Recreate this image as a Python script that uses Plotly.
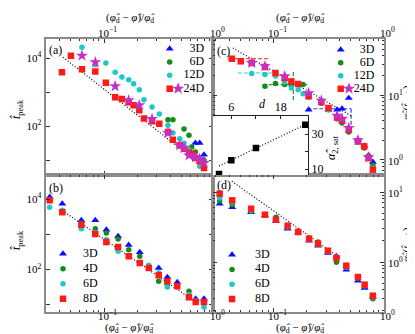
import numpy as np
import plotly.graph_objects as go

W, H = 415, 334
FONT = "Liberation Serif"
N = None

# ---------------- data ----------------
# (phi_d - phi)/phi_d sampled in the top row (panels a, c)
x_top = [0.0418, 0.0504, 0.0633, 0.0835, 0.104, 0.126, 0.145, 0.167, 0.185, 0.208, 0.229,
         0.271, 0.315, 0.377, 0.418, 0.481, 0.526, 0.583, 0.617, 0.665, 0.728, 0.796]
# (a) t_peak
tpeak_a_3d = [N, N, N, N, N, N, N, N, N, N, N, N, N, N, N, N, N, N, N, 31.6, 31.6, 14.3]
tpeak_a_6d = [N, N, N, N, N, N, N, N, N, N, N, N, N, 153, 153, N, 81.6, 53.2, 24.1, 17.2, N, 9.8]
tpeak_a_12d = [N, N, 20600, 6350, 7130, 3790, 2760, 2300, 1750, 1170, 594, 362, 225, 105, 62,
               42, 31, 19.7, N, N, 6.5, N]
tpeak_a_24d_sq = [3800, 11700, 4650, 4000, 1870, 700, 620, 500, 405, 290, 165, 137, 117, 67,
                  39.5, 27, 21.5, 16.4, 15, 11.5, 9.2, 5.8]
tpeak_a_24d_st = [N, N, 11700, 7480, N, 1470, N, 570, N, 406, N, 161, N, 62, N, 27, 22.5, 13.7,
                  N, 12, 10.9, 8.2]
# (c) alpha_2(t_peak)
a2_c_3d = [N, N, N, N, N, N, N, N, N, 5.94, N, N, 5.94, 5.94, 6.15, 8.99, N, 2.05, N, 1.66, 1.18, 0.93]
a2_c_6d = [N, N, N, 13.7, 15.0, 14.5, 14.0, N, 14.5, 9.65, N, 7.5, 6.1, 4.27, 3.71, 2.7, N, 1.89,
           N, 1.53, 1.15, 0.83]
a2_c_12d = [N, N, 21.4, 20.7, 19.6, 15.8, 12.8, 12.1, 10.5, 9.3, N, N, 5.9, 4.4, N, 2.9, N, 1.9,
            N, N, 1.07, 0.75]
a2_c_24d_sq = [36.2, 33.0, 31.1, 27.0, 21.8, 18.3, 16.2, 14.8, N, 9.55, N, 7.8, 6.31, 4.54, 4.02,
               2.93, N, 1.94, N, 1.62, 1.07, 0.71]
a2_c_24d_st = [N, N, 31.1, 27.7, N, 19.4, N, N, N, 10.7, N, 8.2, N, 4.8, 4.32, 3.11, N, 2.01,
               N, N, 1.1, N]
# (c) plateau levels (dashed) and crossover markers
sat_dims = ["3D", "6D", "12D", "24D"]
sat_level = [6.15, 14.4, 21.8, 36.2]
sat_x_from = [0.202, 0.0796, 0.0474, 0.0386]
sat_x_to = [0.505, 0.202, 0.104, 0.0915]
cross_dims = ["3D", "6D"]
cross_x = [0.505, 0.151]
cross_y_from = [6.15, 22.6]
cross_y_to = [2.6, 8.4]

# bottom row (panels b, d)
x_bot = [0.0324, 0.0421, 0.0625, 0.0835, 0.105, 0.134, 0.167, 0.210, 0.253, 0.311, 0.372,
         0.457, 0.583, 0.670, 0.796]
tpeak_b_3d = [11400, 7360, 2490, 2490, 1350, 875, 495, 308, N, 110, 60, 43.4, N, 14.9, 14.9]
tpeak_b_4d = [9000, 4300, 2080, 1440, 1080, 733, 365, 237, 110, 46.2, 37.1, 33, 24.1, 13, 12]
tpeak_b_6d = [5820, 4780, 1440, 1100, 700, 328, 241, 153, 131, 79.5, 31.9, 34, 19.3, 12.8, 8.5]
tpeak_b_8d = [9190, 4200, 1870, 1016, 603, 435, 237, 153, 110, 68.4, 46.2, 33.4, 16.3, 12.0, 12.0]
a2_d_3d = [6.81, 6.04, 5.13, 4.65, 3.81, 2.99, 2.64, 2.02, 1.71, 1.34, 1.21, 0.776, 0.541, 0.425, 0.32]
a2_d_4d = [7.51, 6.59, 5.30, 4.74, 4.35, 3.30, 2.77, 2.20, 1.93, 1.42, 0.99, 0.85, 0.59, 0.46, 0.299]
a2_d_6d = [8.21, 7.2, 5.5, 4.69, 3.98, 3.16, 2.7, 2.12, 1.8, 1.42, 1.18, 0.85, 0.6, 0.46, 0.32]
a2_d_8d = [9.46, 7.61, 5.77, 4.74, 4.02, 3.30, 2.68, 2.15, 1.83, 1.45, 1.14, 0.886, 0.61, 0.474, 0.33]

# power-law guides: prefactor, exponent, x start, x end
fit_a = [3.50, -2.54, 0.0427, 0.656]
fit_b = [5.03, -2.16, 0.0421, 0.670]
fit_c = [2.47, -0.972, 0.0427, 0.515]
fit_d = [0.413, -1.115, 0.0418, 0.383]

# inset: saturation value vs dimension
inset_d = [3, 6, 12, 24]
inset_alpha_sat = [7.1, 15.0, 22.0, 35.3]

legend_top = ["3D", "6D", "12D", "24D"]
legend_bot = ["3D", "4D", "6D", "8D"]

# ---------------- style ----------------
STY = {
    "blue": dict(symbol="triangle-up", size=7, color="#0b0bff"),
    "green": dict(symbol="circle", size=5.5, color="#178a17"),
    "cyan": dict(symbol="circle", size=5.5, color="#1cc8c8"),
    "red": dict(symbol="square", size=6.5, color="#ff1a1a"),
    "magenta": dict(symbol="star", size=9, color="#c52fc5"),
}
DASH_COL = {"3D": "#3a3aff", "6D": "#1f9a1f", "12D": "#2ccfcf", "24D": "#ff4a4a"}
DOT = "1px,2px"


def xd(p0, p1):
    return [p0 / W, p1 / W]


def yd(top, bottom):
    return [1 - bottom / H, 1 - top / H]


def sup10(e):
    return "10<sup>%s</sup>" % (str(e).replace("-", "\u2212"))


X_MINOR = [k * 10.0 ** e for e in (-2, -1) for k in range(2, 10)]
Y_MINOR_SMALL = [k * 10.0 ** e for e in (-1, 0, 1) for k in range(2, 10)]


def log_axis(domain, rng, side, anchor, tickvals, ticktext, minor=None, labels=True):
    ax = dict(type="log", domain=domain, range=rng, side=side, anchor=anchor,
              showline=True, linecolor="#8a8a8a", linewidth=2, mirror="ticks",
              ticks="inside", ticklen=4, tickwidth=1, tickcolor="#333",
              tickvals=tickvals, ticktext=ticktext, showgrid=False, zeroline=False,
              showticklabels=labels,
              tickfont=dict(family=FONT, size=11, color="black"))
    if minor:
        ax["minor"] = dict(tickvals=minor, ticks="inside", ticklen=2, tickcolor="#333")
    return ax


fig = go.Figure()


def add_pts(x, y, sty, xa, ya):
    fig.add_trace(go.Scatter(x=x, y=y, mode="markers", marker=dict(**STY[sty], line=dict(width=0)),
                             xaxis=xa, yaxis=ya, showlegend=False, hoverinfo="skip"))


def add_fit(p, xa, ya):
    xs = np.geomspace(p[2], p[3], 40)
    fig.add_trace(go.Scatter(x=xs, y=p[0] * xs ** p[1], mode="lines",
                             line=dict(color="black", width=1.2, dash=DOT),
                             xaxis=xa, yaxis=ya, showlegend=False, hoverinfo="skip"))


# panel (a)
add_fit(fit_a, "x", "y")
add_pts(x_top, tpeak_a_3d, "blue", "x", "y")
add_pts(x_top, tpeak_a_6d, "green", "x", "y")
add_pts(x_top, tpeak_a_12d, "cyan", "x", "y")
add_pts(x_top, tpeak_a_24d_sq, "red", "x", "y")
add_pts(x_top, tpeak_a_24d_st, "magenta", "x", "y")

# panel (c)
for dim, lev, x0, x1 in zip(sat_dims, sat_level, sat_x_from, sat_x_to):
    fig.add_trace(go.Scatter(x=[x0, x1], y=[lev, lev], mode="lines",
                             line=dict(color=DASH_COL[dim], width=1.2, dash="4px,2px"),
                             xaxis="x2", yaxis="y2", showlegend=False, hoverinfo="skip"))
for dim, xc, y0, y1 in zip(cross_dims, cross_x, cross_y_from, cross_y_to):
    fig.add_trace(go.Scatter(x=[xc, xc], y=[y0, y1], mode="lines",
                             line=dict(color=DASH_COL[dim], width=1.2, dash="4px,2px"),
                             xaxis="x2", yaxis="y2", showlegend=False, hoverinfo="skip"))
add_fit(fit_c, "x2", "y2")
add_pts(x_top, a2_c_3d, "blue", "x2", "y2")
add_pts(x_top, a2_c_6d, "green", "x2", "y2")
add_pts(x_top, a2_c_12d, "cyan", "x2", "y2")
add_pts(x_top, a2_c_24d_sq, "red", "x2", "y2")
add_pts(x_top, a2_c_24d_st, "magenta", "x2", "y2")

# panel (b)
add_fit(fit_b, "x3", "y3")
add_pts(x_bot, tpeak_b_3d, "blue", "x3", "y3")
add_pts(x_bot, tpeak_b_4d, "green", "x3", "y3")
add_pts(x_bot, tpeak_b_6d, "cyan", "x3", "y3")
add_pts(x_bot, tpeak_b_8d, "red", "x3", "y3")

# panel (d)
add_fit(fit_d, "x4", "y4")
add_pts(x_bot, a2_d_3d, "blue", "x4", "y4")
add_pts(x_bot, a2_d_4d, "green", "x4", "y4")
add_pts(x_bot, a2_d_6d, "cyan", "x4", "y4")
add_pts(x_bot, a2_d_8d, "red", "x4", "y4")

# inset: linear fit over d >= 6
slope, icpt = np.polyfit(inset_d[1:], inset_alpha_sat[1:], 1)
d_line = np.array([min(inset_d), max(inset_d)])
fig.add_trace(go.Scatter(x=d_line, y=slope * d_line + icpt, mode="lines",
                         line=dict(color="black", width=1.2, dash=DOT),
                         xaxis="x5", yaxis="y5", showlegend=False, hoverinfo="skip"))
fig.add_trace(go.Scatter(x=inset_d, y=inset_alpha_sat, mode="markers",
                         marker=dict(symbol="square", size=6.5, color="black"),
                         xaxis="x5", yaxis="y5", showlegend=False, hoverinfo="skip"))

# legends, drawn on small categorical axes
TXT = dict(family=FONT, size=12, color="black")


def top_legend(xa, ya):
    for lab, sty in zip(legend_top[:3], ["blue", "green", "cyan"]):
        add_pts(["sym"], [lab], sty, xa, ya)
    fig.add_trace(go.Scatter(x=["sym"], y=[legend_top[3]], mode="markers+text", text=["/"],
                             textposition="middle right", textfont=TXT,
                             marker=dict(**STY["red"]), xaxis=xa, yaxis=ya,
                             showlegend=False, hoverinfo="skip"))
    add_pts(["alt"], [legend_top[3]], "magenta", xa, ya)
    fig.add_trace(go.Scatter(x=["lab"] * 4, y=legend_top, mode="text", text=legend_top,
                             textposition="middle left", textfont=TXT, xaxis=xa, yaxis=ya,
                             showlegend=False, hoverinfo="skip"))


def bot_legend(xa, ya):
    for lab, sty in zip(legend_bot, ["blue", "green", "cyan", "red"]):
        add_pts(["sym"], [lab], sty, xa, ya)
    fig.add_trace(go.Scatter(x=["lab"] * 4, y=legend_bot, mode="text", text=legend_bot,
                             textposition="middle right", textfont=TXT, xaxis=xa, yaxis=ya,
                             showlegend=False, hoverinfo="skip"))


top_legend("x6", "y6")
top_legend("x7", "y7")
bot_legend("x8", "y8")
bot_legend("x9", "y9")

# ---------------- layout ----------------
LEFT, RIGHT = xd(37.5, 205), xd(205, 376)
TOP, BOT = yd(31, 167), yd(167, 304)
xr_left, xr_right = [-1.527, -0.018], [-1.55, 0.002]
xt = [0.1, 1]
yt_t = [10, 100, 1000, 10000]
ytt_t = ["", sup10(2), "", sup10(4)]
yt_a = [0.1, 1, 10]


def leg_x(left, unit, cats):
    return dict(domain=xd(left, left + 5 * unit), type="category", categoryorder="array",
                categoryarray=cats, range=[-0.5, 4.5], visible=False, fixedrange=True)


def leg_y(top, step, cats, anchor):
    return dict(domain=yd(top, top + 4 * step), type="category", categoryorder="array",
                categoryarray=cats, range=[3.5, -0.5], visible=False, fixedrange=True,
                anchor=anchor)


CAT_TOP = ["sym", "alt", "c2", "c3", "lab"]
CAT_BOT = ["sym", "alt", "lab"]

fig.update_layout(
    width=W, height=H, margin=dict(l=0, r=0, t=0, b=0),
    paper_bgcolor="white", plot_bgcolor="white",
    font=dict(family=FONT, size=12, color="black"),
    xaxis=log_axis(LEFT, xr_left, "top", "y", xt, None, X_MINOR, labels=False),
    yaxis=log_axis(TOP, [0.559, 4.559], "left", "x", yt_t, ytt_t),
    xaxis2=log_axis(RIGHT, xr_right, "top", "y2", xt, None, X_MINOR, labels=False),
    yaxis2=log_axis(TOP, [-0.231, 1.862], "right", "x2", yt_a, None, Y_MINOR_SMALL, labels=False),
    xaxis3=log_axis(LEFT, xr_left, "bottom", "y3", xt, None, X_MINOR, labels=False),
    yaxis3=log_axis(BOT, [0.794, 4.681], "left", "x3", yt_t, ytt_t),
    xaxis4=log_axis(RIGHT, xr_right, "bottom", "y4", xt, None, X_MINOR, labels=False),
    yaxis4=log_axis(BOT, [-0.714, 1.243], "right", "x4", yt_a, None, Y_MINOR_SMALL, labels=False),
    xaxis5=dict(domain=xd(205, 300), range=[1.54, 24.66], side="top", anchor="y5",
                showline=True, linecolor="#222", linewidth=1, mirror=False,
                ticks="inside", ticklen=3, tickcolor="#222", showgrid=False, zeroline=False,
                tickvals=[6, 12, 18], ticktext=["6", "", "18"],
                tickfont=dict(family=FONT, size=12, color="black")),
    yaxis5=dict(domain=yd(108.3, 167), range=[6.6, 40.1], side="right", anchor="x5",
                showline=True, linecolor="#222", linewidth=1, mirror=False,
                ticks="inside", ticklen=3, tickcolor="#222", showgrid=False, zeroline=False,
                tickvals=[10, 20, 30], ticktext=["10", "", "30"],
                tickfont=dict(family=FONT, size=12, color="black")),
    xaxis6=dict(leg_x(157.4, 8.6, CAT_TOP), anchor="y6"),
    yaxis6=leg_y(34, 13.33, legend_top, "x6"),
    xaxis7=dict(leg_x(328.5, 8.4, CAT_TOP), anchor="y7"),
    yaxis7=leg_y(35.2, 13.0, legend_top, "x7"),
    xaxis8=dict(leg_x(50, 10, CAT_BOT), anchor="y8"),
    yaxis8=leg_y(238.2, 15.0, legend_bot, "x8"),
    xaxis9=dict(leg_x(218.3, 11.5, CAT_BOT), anchor="y9"),
    yaxis9=leg_y(239.3, 14.8, legend_bot, "x9"),
)

XLAB = "(<i>φ̂</i><sub>d</sub> \u2212 <i>φ̂</i>)/<i>φ̂</i><sub>d</sub>"
TLAB = "<i>t̂</i><sub>peak</sub>"
ALAB = "<i>α̂</i><sub>2</sub>(<i>t̂</i><sub>peak</sub>)"


def ann(text, px, py, size=12, angle=0, xanchor="center", yanchor="middle"):
    fig.add_annotation(text=text, x=px / W, y=1 - py / H, xref="paper", yref="paper",
                       showarrow=False, textangle=angle, xanchor=xanchor, yanchor=yanchor,
                       font=dict(family=FONT, size=size, color="black"))


ann(XLAB, 122, 10, size=11)
ann(XLAB, 292, 10, size=11)
ann(XLAB, 121, 320, size=11)
ann(XLAB, 292, 320, size=11)
ann(TLAB, 9, 101, angle=-90)
ann(TLAB, 9, 232, angle=-90)
ann(ALAB, 399, 95, size=11, angle=-90)
ann(ALAB, 399, 237, size=11, angle=-90)
ann("(a)", 38.5, 42, xanchor="left")
ann("(c)", 207, 43, xanchor="left")
ann("(b)", 38.5, 180, xanchor="left")
ann("(d)", 207, 177, xanchor="left")
# x tick labels (top and bottom rows); decades at these pixel columns
for px, lab in [(96, sup10(-1)), (207, sup10(0)), (266, sup10(-1)), (376, sup10(0))]:
    ann(lab, px + 3, 24, size=11)
    ann(lab, px + 3, 307, size=11)
# right-hand y tick labels, placed on the decades of panels (c) and (d)
for ya in ("y2", "y4"):
    for dec in (0, 1):
        fig.add_annotation(text=sup10(dec), x=378 / W, xref="paper", y=dec, yref=ya,
                           showarrow=False, xanchor="left", yanchor="middle",
                           font=dict(family=FONT, size=11, color="black"))
# inset labels
ann("<i>d</i>", 254, 96)
ann("<i>α̂</i><sub>2, sat</sub>", 324, 140, angle=-90)

fig.write_html("out.html")
